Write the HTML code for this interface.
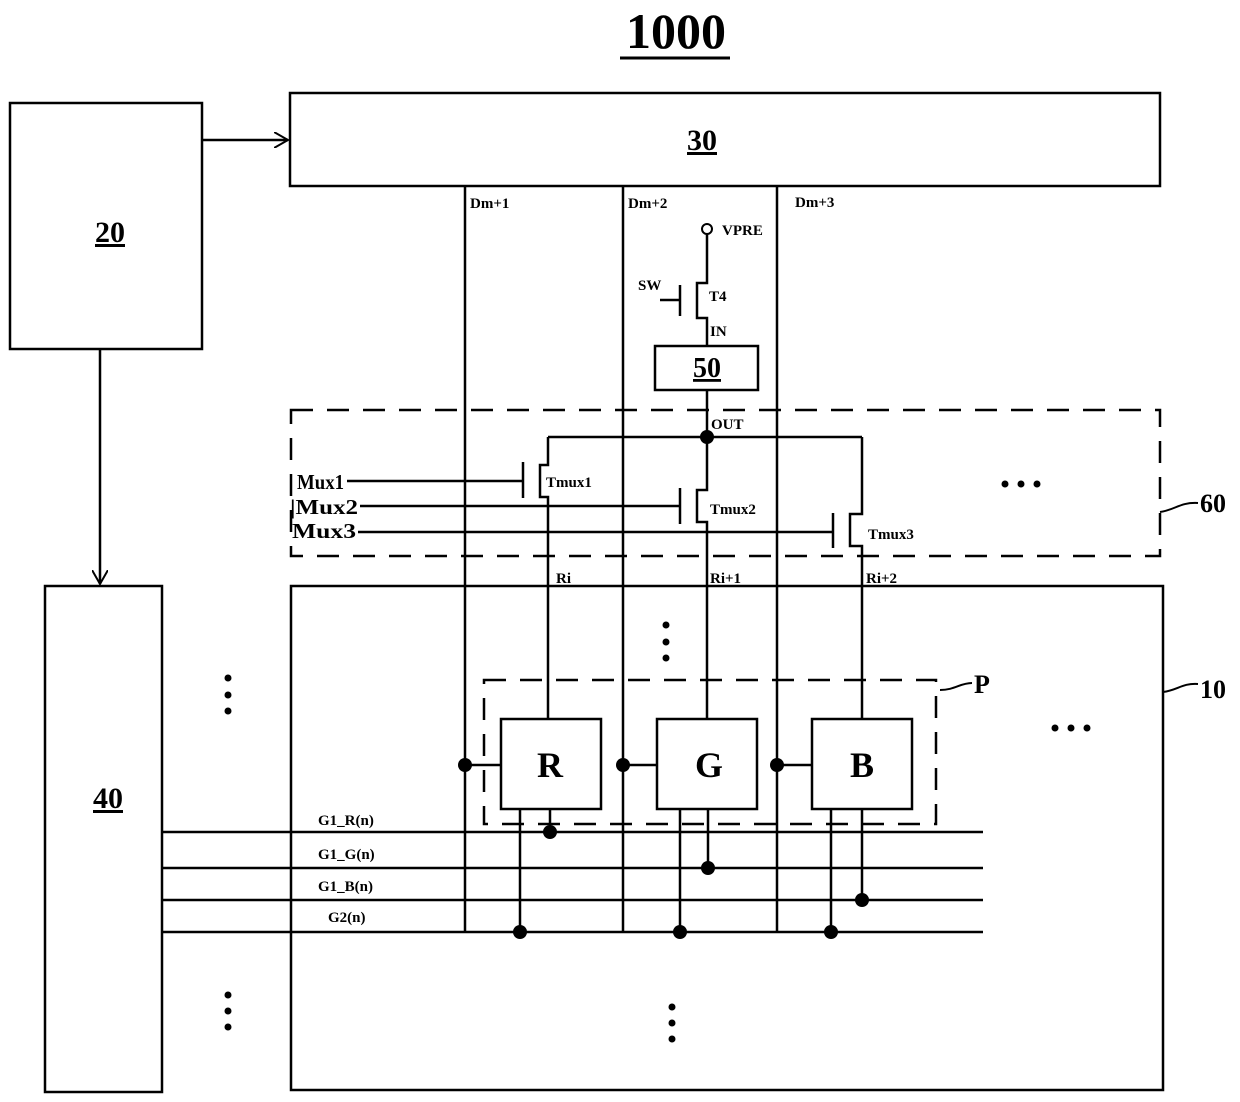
<!DOCTYPE html>
<html><head><style>body{margin:0;background:#fff}svg{display:block}text{font-family:"Liberation Serif",serif;font-weight:bold;fill:#000}</style></head><body>
<svg width="1240" height="1102" viewBox="0 0 1240 1102" xmlns="http://www.w3.org/2000/svg">
<defs><marker id="a" markerWidth="16" markerHeight="16" refX="14" refY="8" orient="auto" markerUnits="userSpaceOnUse"><path d="M0,0 L14,8 L0,16" fill="none" stroke="#000" stroke-width="2"/></marker></defs>
<g stroke="#000" stroke-width="2.5" fill="none">
<rect x="10" y="103" width="192" height="246"/>
<rect x="290" y="93" width="870" height="93"/>
<rect x="45" y="586" width="117" height="506"/>
<rect x="291" y="586" width="872" height="504"/>
<line x1="202" y1="140" x2="288" y2="140" marker-end="url(#a)"/>
<line x1="100" y1="349" x2="100" y2="584" marker-end="url(#a)"/>
<line x1="465" y1="186" x2="465" y2="932"/>
<line x1="623" y1="186" x2="623" y2="932"/>
<line x1="777" y1="186" x2="777" y2="932"/>
<circle cx="707" cy="229" r="5" stroke-width="2"/>
<polyline points="707,234 707,283 697,283 697,318 707,318 707,346"/>
<line x1="680" y1="285" x2="680" y2="316"/><line x1="660" y1="300" x2="680" y2="300"/>
<rect x="655" y="346" width="103" height="44"/>
<line x1="707" y1="390" x2="707" y2="437"/>
<rect x="291" y="410" width="869" height="146" stroke-dasharray="22,14"/>
<line x1="548" y1="437" x2="862" y2="437"/>
<polyline points="548,437 548,465 540,465 540,497 548,497 548,719"/>
<line x1="523" y1="462" x2="523" y2="498"/><line x1="347" y1="481" x2="523" y2="481"/>
<polyline points="707,437 707,490 697,490 697,522 707,522 707,719"/>
<line x1="680" y1="488" x2="680" y2="524"/><line x1="360" y1="506" x2="680" y2="506"/>
<polyline points="862,437 862,514 850,514 850,546 862,546 862,719"/>
<line x1="833" y1="513" x2="833" y2="548"/><line x1="358" y1="532" x2="833" y2="532"/>
<rect x="484" y="680" width="452" height="144" stroke-dasharray="22,14"/>
<rect x="501" y="719" width="100" height="90" fill="#fff"/>
<rect x="657" y="719" width="100" height="90" fill="#fff"/>
<rect x="812" y="719" width="100" height="90" fill="#fff"/>
<line x1="465" y1="765" x2="501" y2="765"/><line x1="623" y1="765" x2="657" y2="765"/><line x1="777" y1="765" x2="812" y2="765"/>
<line x1="162" y1="832" x2="983" y2="832"/><line x1="162" y1="868" x2="983" y2="868"/>
<line x1="162" y1="900" x2="983" y2="900"/><line x1="162" y1="932" x2="983" y2="932"/>
<line x1="520" y1="809" x2="520" y2="932"/><line x1="550" y1="809" x2="550" y2="832"/>
<line x1="680" y1="809" x2="680" y2="932"/><line x1="708" y1="809" x2="708" y2="868"/>
<line x1="831" y1="809" x2="831" y2="932"/><line x1="862" y1="809" x2="862" y2="900"/>
<path d="M1160,512 C1175,510 1180,502 1198,503" stroke-width="2"/>
<path d="M1163,692 C1178,690 1182,683 1198,684" stroke-width="2"/>
<path d="M940,690 C955,690 960,683 972,683" stroke-width="2"/>
<line x1="620" y1="58" x2="730" y2="58" stroke-width="3"/>
</g>
<g fill="#000">
<circle cx="707" cy="437" r="7"/>
<circle cx="465" cy="765" r="7"/><circle cx="623" cy="765" r="7"/><circle cx="777" cy="765" r="7"/>
<circle cx="550" cy="832" r="7"/><circle cx="708" cy="868" r="7"/><circle cx="862" cy="900" r="7"/>
<circle cx="520" cy="932" r="7"/><circle cx="680" cy="932" r="7"/><circle cx="831" cy="932" r="7"/>
<circle cx="228" cy="678" r="3.5"/><circle cx="228" cy="695" r="3.5"/><circle cx="228" cy="711" r="3.5"/>
<circle cx="228" cy="995" r="3.5"/><circle cx="228" cy="1011" r="3.5"/><circle cx="228" cy="1027" r="3.5"/>
<circle cx="666" cy="625" r="3.5"/><circle cx="666" cy="642" r="3.5"/><circle cx="666" cy="658" r="3.5"/>
<circle cx="672" cy="1007" r="3.5"/><circle cx="672" cy="1023" r="3.5"/><circle cx="672" cy="1039" r="3.5"/>
<circle cx="1005" cy="484" r="3.5"/><circle cx="1021" cy="484" r="3.5"/><circle cx="1037" cy="484" r="3.5"/>
<circle cx="1055" cy="728" r="3.5"/><circle cx="1071" cy="728" r="3.5"/><circle cx="1087" cy="728" r="3.5"/>
</g>
<text x="676" y="48" font-size="50" text-anchor="middle">1000</text>
<text x="110" y="242" font-size="30" text-anchor="middle" text-decoration="underline">20</text>
<text x="702" y="150" font-size="30" text-anchor="middle" text-decoration="underline">30</text>
<text x="108" y="808" font-size="30" text-anchor="middle" text-decoration="underline">40</text>
<text x="707" y="377" font-size="28" text-anchor="middle" text-decoration="underline">50</text>
<text x="1200" y="512" font-size="26">60</text>
<text x="1200" y="698" font-size="26">10</text>
<text x="974" y="693" font-size="26">P</text>
<text x="550" y="777" font-size="36" text-anchor="middle" font-weight="normal">R</text>
<text x="709" y="777" font-size="36" text-anchor="middle" font-weight="normal">G</text>
<text x="862" y="777" font-size="36" text-anchor="middle" font-weight="normal">B</text>
<g font-size="15">
<text x="470" y="208">Dm+1</text><text x="628" y="208">Dm+2</text><text x="795" y="207">Dm+3</text>
<text x="722" y="235">VPRE</text><text x="638" y="290">SW</text><text x="709" y="301">T4</text><text x="710" y="336">IN</text>
<text x="711" y="429">OUT</text>
<text x="546" y="487">Tmux1</text><text x="710" y="514">Tmux2</text><text x="868" y="539">Tmux3</text>
<text x="556" y="583">Ri</text><text x="710" y="583">Ri+1</text><text x="866" y="583">Ri+2</text>
<text x="318" y="825">G1_R(n)</text><text x="318" y="859">G1_G(n)</text><text x="318" y="891">G1_B(n)</text><text x="328" y="922">G2(n)</text>
</g>
<g font-size="21" font-weight="normal">
<text x="297" y="489" textLength="47" lengthAdjust="spacingAndGlyphs">Mux1</text>
<text x="290" y="514" textLength="68" lengthAdjust="spacingAndGlyphs">|Mux2</text>
<text x="292" y="538" textLength="64" lengthAdjust="spacingAndGlyphs">Mux3</text>
</g>
</svg>
</body></html>
